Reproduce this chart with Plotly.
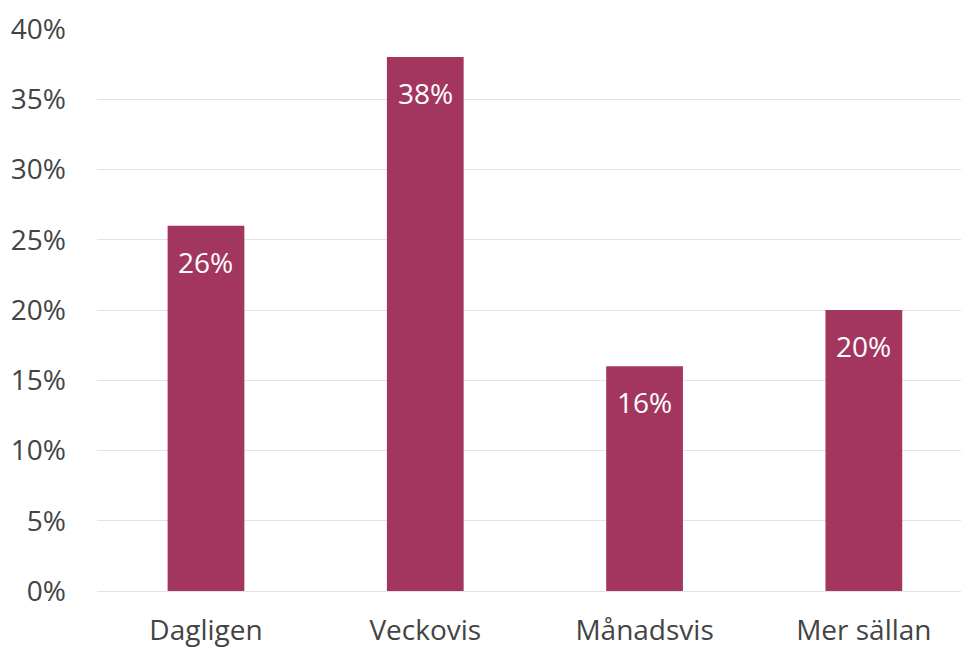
import plotly.graph_objects as go

# Survey answers: how often
categories = ["Dagligen", "Veckovis", "Månadsvis", "Mer sällan"]
shares = [26, 38, 16, 20]  # percent

bar_color = "#A3365F"
font_family = "Open Sans"

fig = go.Figure(
    go.Bar(
        x=categories,
        y=shares,
        marker=dict(color=bar_color, line=dict(width=0)),
        width=0.35,
        hoverinfo="skip",
    )
)

# value labels inside the top of each bar
for cat, val in zip(categories, shares):
    fig.add_annotation(
        x=cat, y=val, text=f"{val}%", showarrow=False,
        yanchor="top", yshift=-15,
        font=dict(family=font_family, size=28, color="white"),
    )

fig.update_layout(
    width=961, height=650,
    margin=dict(l=97, r=0, t=29, b=59),
    paper_bgcolor="white", plot_bgcolor="white",
    font=dict(family=font_family, size=28, color="#444444"),
    showlegend=False,
    bargap=0.65,
)
fig.update_yaxes(
    range=[0, 40], dtick=5, ticksuffix="%",
    showgrid=True, gridcolor="#e4e4e4", gridwidth=1,
    zeroline=True, zerolinecolor="#e4e4e4", zerolinewidth=1,
    showline=False, ticks="", ticklabelstandoff=30, automargin=False,
    tickfont=dict(family=font_family, size=28, color="#444444"),
)
fig.update_xaxes(
    range=[-0.497, 3.443],
    showgrid=False, showline=False, zeroline=False, ticks="",
    ticklabelstandoff=20, automargin=False,
    tickfont=dict(family=font_family, size=28, color="#444444"),
)

fig.write_html("out.html")
